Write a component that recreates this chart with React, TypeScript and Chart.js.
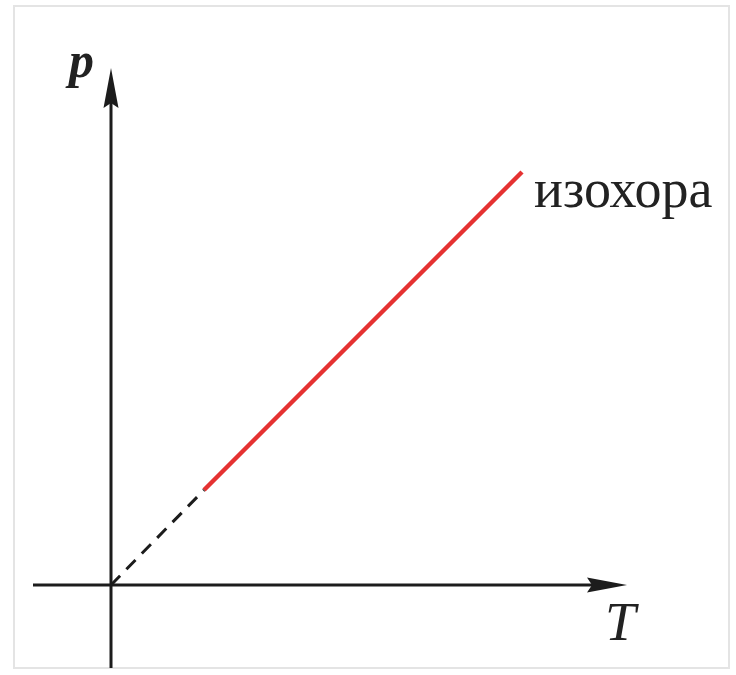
import React, { useEffect, useRef } from "react";
import { Chart, registerables } from "chart.js";

Chart.register(...registerables);

// Data (arbitrary units: temperature T, pressure p)
const isochoreT = [0.93, 4.11];
const isochoreP = [0.95, 4.13];
const extrapT = [0, 0.93];
const extrapP = [0, 0.95];
const tRange = [-1.11, 6.25];
const pRange = [-0.9, 5.85];
const tAxisSpan = [-0.78, 5.16];
const pAxisSpan = [-0.83, 5.17];
const axisLabels = ["T", "p"];
const lineLabel = "изохора";

const AXIS_COLOR = "#1c1c1c";
const RED = "#e53232";

const pts = (xs: number[], ys: number[]) => xs.map((x, i) => ({ x, y: ys[i] }));

const arrowPlugin = {
  id: "arrowsAndLabels",
  afterDatasetsDraw(chart: any) {
    const { ctx, scales } = chart;
    const xs = scales.x;
    const ys = scales.y;
    const ox = xs.getPixelForValue(0);
    const oy = ys.getPixelForValue(0);
    const tTip = xs.getPixelForValue(tAxisSpan[1]);
    const pTip = ys.getPixelForValue(pAxisSpan[1]);
    const len = 40;
    const half = 7.5;
    ctx.save();
    ctx.fillStyle = AXIS_COLOR;
    // T arrow (pointing right)
    ctx.beginPath();
    ctx.moveTo(tTip, oy);
    ctx.lineTo(tTip - len, oy - half);
    ctx.lineTo(tTip - len + 5, oy);
    ctx.lineTo(tTip - len, oy + half);
    ctx.closePath();
    ctx.fill();
    // p arrow (pointing up)
    ctx.beginPath();
    ctx.moveTo(ox, pTip);
    ctx.lineTo(ox - half, pTip + len);
    ctx.lineTo(ox, pTip + len - 5);
    ctx.lineTo(ox + half, pTip + len);
    ctx.closePath();
    ctx.fill();

    // labels
    ctx.fillStyle = "#222";
    ctx.textBaseline = "alphabetic";
    ctx.textAlign = "left";
    ctx.font = "italic 55px 'Liberation Serif', serif";
    ctx.fillText(axisLabels[0], tTip - 22, oy + 55);
    ctx.font = "italic bold 50px 'Liberation Serif', serif";
    ctx.fillText(axisLabels[1], ox - 42, pTip + 9);
    ctx.font = "54px 'Liberation Serif', serif";
    const ex = xs.getPixelForValue(isochoreT[1]);
    const ey = ys.getPixelForValue(isochoreP[1]);
    ctx.fillText(lineLabel, ex + 12, ey + 35);
    ctx.restore();
  },
};

export default function App() {
  const ref = useRef<HTMLCanvasElement | null>(null);
  useEffect(() => {
    document.body.style.margin = "0";
    if (!ref.current) return;
    const chart = new Chart(ref.current, {
      type: "scatter",
      data: {
        datasets: [
          {
            data: pts([tAxisSpan[0], tAxisSpan[1] - 20 / 100], [0, 0]),
            showLine: true,
            borderColor: AXIS_COLOR,
            borderWidth: 3,
            pointRadius: 0,
          },
          {
            data: pts([0, 0], [pAxisSpan[0], pAxisSpan[1] - 20 / 100]),
            showLine: true,
            borderColor: AXIS_COLOR,
            borderWidth: 3,
            pointRadius: 0,
          },
          {
            data: pts(extrapT, extrapP),
            showLine: true,
            borderColor: AXIS_COLOR,
            borderWidth: 3,
            borderDash: [13, 9],
            pointRadius: 0,
          },
          {
            data: pts(isochoreT, isochoreP),
            showLine: true,
            borderColor: RED,
            borderWidth: 4.5,
            pointRadius: 0,
          },
        ],
      },
      options: {
        animation: false,
        responsive: false,
        layout: { padding: 0 },
        plugins: { legend: { display: false }, tooltip: { enabled: false } },
        scales: {
          x: { type: "linear", min: tRange[0], max: tRange[1], display: false },
          y: { type: "linear", min: pRange[0], max: pRange[1], display: false },
        },
        elements: { line: { tension: 0 } },
      },
      plugins: [arrowPlugin],
    } as any);
    return () => chart.destroy();
  }, []);
  return (
    <div style={{ position: "relative", width: 736, height: 675, background: "#fff" }}>
      <div
        style={{
          position: "absolute",
          left: 13,
          top: 5,
          width: 717,
          height: 664,
          border: "2px solid #e4e4e4",
          boxSizing: "border-box",
        }}
      />
      <canvas
        ref={ref}
        width={736}
        height={675}
        style={{ position: "absolute", left: 0, top: 0, display: "block" }}
      />
    </div>
  );
}
